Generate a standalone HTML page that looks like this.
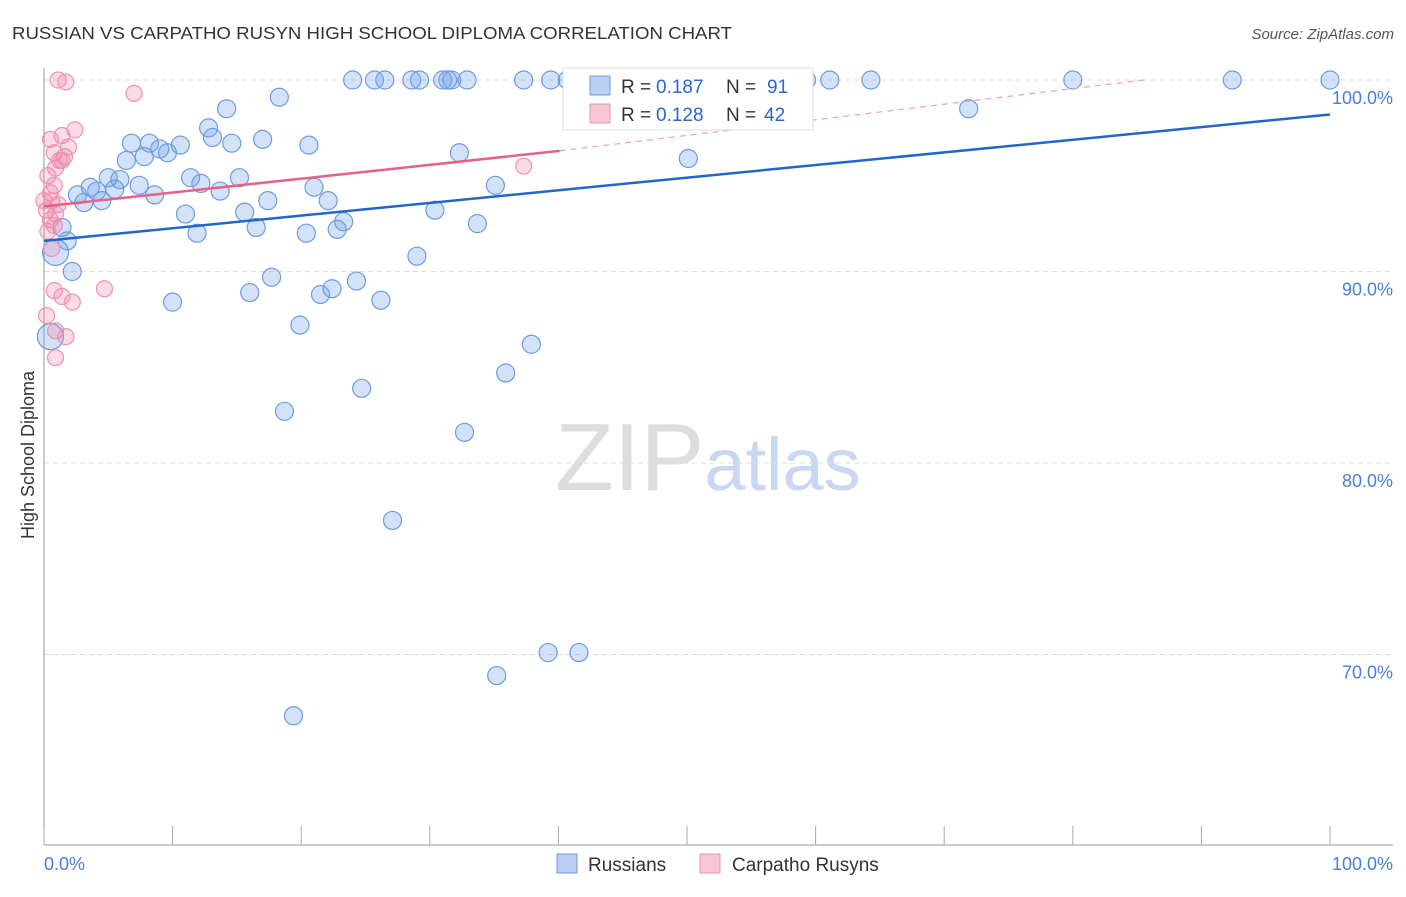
<!DOCTYPE html>
<html><head><meta charset="utf-8"><style>
body{margin:0;background:#fff;font-family:"Liberation Sans",sans-serif}
svg text{font-family:"Liberation Sans",sans-serif}
</style></head><body>
<svg id="chart" width="1406" height="892" xmlns="http://www.w3.org/2000/svg">
<text x="12" y="39" font-size="17.5" fill="#333" textLength="720" lengthAdjust="spacingAndGlyphs">RUSSIAN VS CARPATHO RUSYN HIGH SCHOOL DIPLOMA CORRELATION CHART</text>
<text x="1394" y="39" font-size="15" fill="#555" text-anchor="end" font-style="italic">Source: ZipAtlas.com</text>
<text x="555" y="490" font-size="96" fill="#ddd" font-family="Liberation Serif">ZIP<tspan fill="#c8d8f0" font-family="Liberation Sans" font-size="74">atlas</tspan></text>
<g id="grid"></g><g id="axes"></g><g id="pts"></g><g id="lines"></g>
<text transform="translate(34,455) rotate(-90)" font-size="18" fill="#333" text-anchor="middle">High School Diploma</text>
<g>
<rect x="563" y="68" width="250" height="62" fill="#fff" stroke="#ddd"/>
<rect x="590" y="76" width="20" height="19" fill="#b9d0f3" stroke="#6c9be0"/>
<rect x="590" y="104" width="20" height="19" fill="#f9c6d5" stroke="#ec93af"/>
<text x="621" y="93" font-size="19" fill="#333">R =</text>
<text x="656" y="93" font-size="19" fill="#2a66cc">0.187</text>
<text x="726" y="93" font-size="19" fill="#333">N =</text>
<text x="767" y="93" font-size="19" fill="#2a66cc">91</text>
<text x="621" y="121" font-size="19" fill="#333">R =</text>
<text x="656" y="121" font-size="19" fill="#2a66cc">0.128</text>
<text x="726" y="121" font-size="19" fill="#333">N =</text>
<text x="764" y="121" font-size="19" fill="#2a66cc">42</text>
</g>
<g>
<rect x="557" y="854" width="20" height="19" fill="#b9d0f3" stroke="#6c9be0"/>
<text x="588" y="871" font-size="19" fill="#333">Russians</text>
<rect x="700" y="854" width="20" height="19" fill="#f9c6d5" stroke="#ec93af"/>
<text x="732" y="871" font-size="19" fill="#333">Carpatho Rusyns</text>
</g>
</svg>
<script>
const yTicks=[100,90,80,70];
const xTickLabels=["0.0%","100.0%"];
const rusX=[24.0,25.7,26.5,28.6,29.2,31.0,31.4,31.7,32.9,37.3,39.4,40.7,46.9,51.2,52.5,54.5,59.3,61.1,64.3,80.0,92.4,100,71.9,18.3,14.2,12.8,13.1,6.8,8.2,10.6,14.6,17.0,20.6,9.0,9.6,6.4,7.8,32.3,50.1,5.0,5.9,7.4,3.6,4.1,5.5,2.6,8.6,11.4,12.2,15.2,13.7,3.1,4.5,17.4,21.0,22.1,11.0,15.6,30.4,35.1,23.3,22.8,33.7,16.5,11.9,20.4,1.4,1.8,0.9,2.2,29.0,17.7,24.3,16.0,21.5,22.4,10.0,26.2,19.9,37.9,0.5,35.9,24.7,18.7,32.7,27.1,39.2,41.6,35.2,19.4];
const rusY=[100,100,100,100,100,100,100,100,100,100,100,100,100,100,100,100,100,100,100,100,100,100,98.5,99.1,98.5,97.5,97.0,96.7,96.7,96.6,96.7,96.9,96.6,96.4,96.2,95.8,96.0,96.2,95.9,94.9,94.8,94.5,94.4,94.2,94.3,94.0,94.0,94.9,94.6,94.9,94.2,93.6,93.7,93.7,94.4,93.7,93.0,93.1,93.2,94.5,92.6,92.2,92.5,92.3,92.0,92.0,92.3,91.6,91.0,90.0,90.8,89.7,89.5,88.9,88.8,89.1,88.4,88.5,87.2,86.2,86.6,84.7,83.9,82.7,81.6,77.0,70.1,70.1,68.9,66.8];
const carX=[1.1,1.7,7.0,2.4,1.4,1.9,0.8,1.6,1.4,0.9,0.3,0.8,0.5,0.6,1.1,0.2,0.9,0.5,0.8,0.3,0.6,0.8,1.4,2.2,4.7,0.2,0.9,1.7,0.9,37.3,1.2,0,0.5];
const carY=[100,99.9,99.3,97.4,97.1,96.5,96.2,96.0,95.8,95.4,95.0,94.5,94.1,93.7,93.5,93.2,93.0,92.7,92.4,92.1,91.2,89.0,88.7,88.4,89.1,87.7,86.9,86.6,85.5,95.5,95.8,93.7,96.9];
const rusTrend=[91.6,98.2];
const carTrend=[93.4,96.3,100];
const carTrendX=[0,40.1,85.5];
const X=v=>44+v*12.86, Y=v=>80+(100-v)*19.15;
const NS="http://www.w3.org/2000/svg";
function mk(tag,attrs,parent){const e=document.createElementNS(NS,tag);for(const k in attrs)e.setAttribute(k,attrs[k]);document.getElementById(parent).appendChild(e);return e;}
yTicks.forEach(t=>{
 const l=mk('line',{x1:44,x2:1393,y1:Y(t),y2:Y(t),stroke:'#ddd','stroke-dasharray':'5,4'},'grid');
 
 
 const tx=mk('text',{x:1393,y:Y(t)+24,'font-size':18,fill:'#4a7fd6','text-anchor':'end'},'grid');
 tx.textContent=t.toFixed(1)+'%';
 
 
});
const ax=mk('line',{x1:44,x2:44,y1:68,y2:845,stroke:'#999'},'axes');


const bx=mk('line',{x1:44,x2:1393,y1:845,y2:845,stroke:'#999'},'axes');


for(let i=0;i<=10;i++){const t=mk('line',{x1:X(i*10),x2:X(i*10),y1:826,y2:845,stroke:'#aaa'},'axes');
 
 }
[[0,'start',44],[1,'end',1393]].forEach(([i,a,x])=>{const t=mk('text',{x:x,y:870,'font-size':18,fill:'#4a7fd6','text-anchor':a},'axes');t.textContent=xTickLabels[i];
 
 });
rusX.forEach((v,i)=>{const r=(rusX[i]<1.5&&rusY[i]<92)?13:9;
 const c=mk('circle',{cx:X(v),cy:Y(rusY[i]),r:r,fill:'rgba(110,160,235,0.3)',stroke:'#6c9be0','stroke-width':1.2},'pts');
 
 });
carX.forEach((v,i)=>{const c=mk('circle',{cx:X(v),cy:Y(carY[i]),r:8,fill:'rgba(240,130,165,0.28)',stroke:'#ec93af','stroke-width':1.2},'pts');
 
 });
const bl=mk('line',{x1:X(0),y1:Y(rusTrend[0]),x2:X(100),y2:Y(rusTrend[1]),stroke:'#2266cc','stroke-width':2.5},'lines');


const pl=mk('line',{x1:X(carTrendX[0]),y1:Y(carTrend[0]),x2:X(carTrendX[1]),y2:Y(carTrend[1]),stroke:'#e8608a','stroke-width':2.5},'lines');


const pd=mk('line',{x1:X(carTrendX[1]),y1:Y(carTrend[1]),x2:X(carTrendX[2]),y2:Y(carTrend[2]),stroke:'#eea0b8','stroke-width':1.2,'stroke-dasharray':'6,5'},'lines');


</script>
</body></html>
